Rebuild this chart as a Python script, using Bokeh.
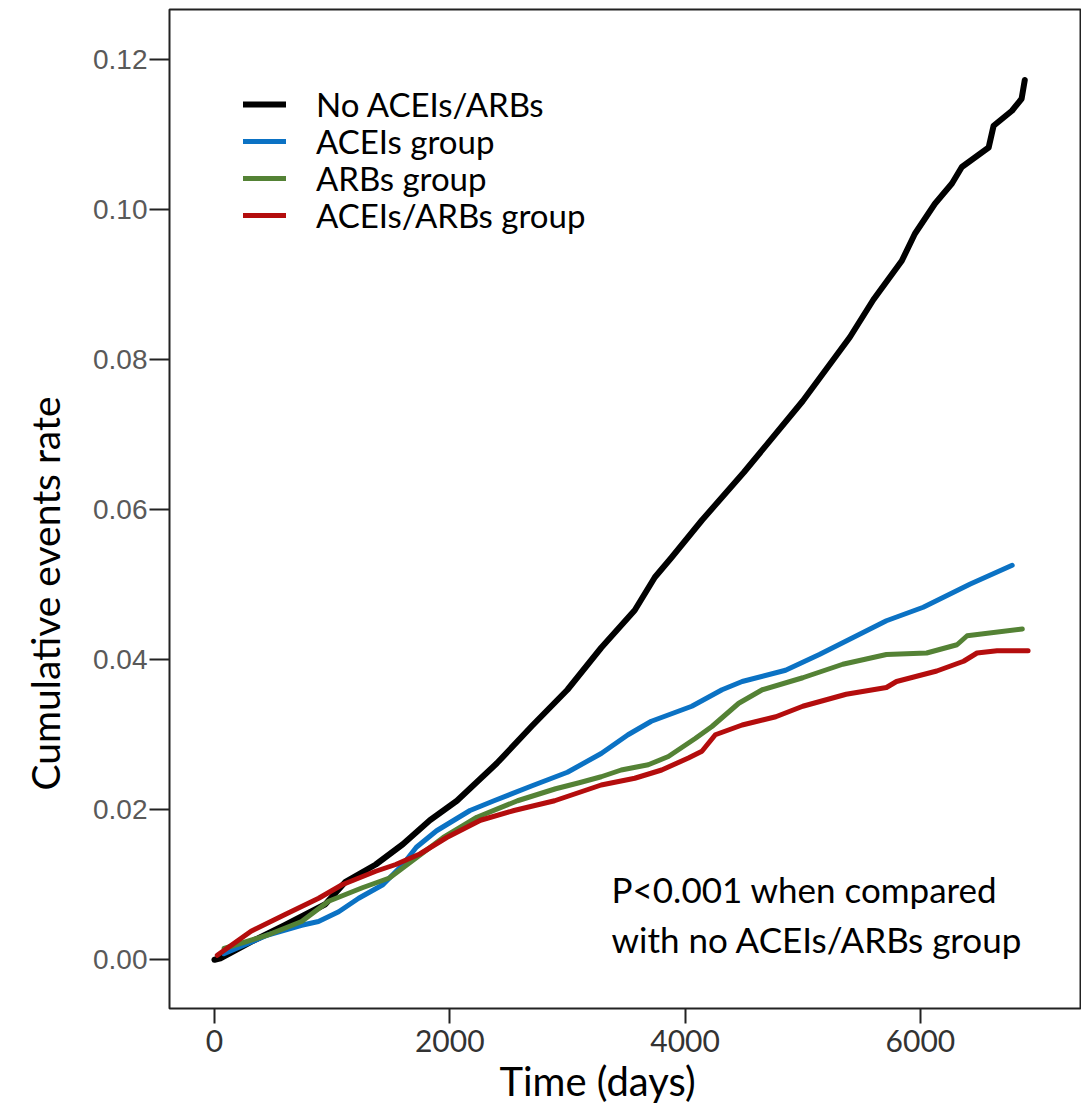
from bokeh.plotting import figure
from bokeh.models import (Range1d, FixedTicker, Legend, LegendItem, Label, Title)
from bokeh.embed import file_html
from bokeh.resources import INLINE

# ---- data ----
x_ticks = [0, 2000, 4000, 6000]
x_tick_labels = ["0", "2000", "4000", "6000"]
y_ticks = [0.0, 0.02, 0.04, 0.06, 0.08, 0.10, 0.12]
y_tick_labels = ["0.00", "0.02", "0.04", "0.06", "0.08", "0.10", "0.12"]

x_title = "Time (days)"
y_title = "Cumulative events rate"

series_names = ["No ACEIs/ARBs", "ACEIs group", "ARBs group", "ACEIs/ARBs group"]

black_days = [0, 51, 311, 596, 942, 1114, 1371, 1601, 1831, 2061, 2400, 2700, 3000,
              3287, 3572, 3743, 3883, 4143, 4500, 5000, 5400, 5600, 5842, 5953,
              6123, 6268, 6352, 6580, 6622, 6778, 6860, 6887]
black_vals = [0.0, 0.0002, 0.0024, 0.0046, 0.0074, 0.0104, 0.0127, 0.0154, 0.0186,
              0.0212, 0.0262, 0.0312, 0.0360, 0.0416, 0.0466, 0.0510, 0.0536, 0.0586,
              0.0650, 0.0745, 0.0830, 0.0880, 0.0932, 0.0968, 0.1008, 0.1035, 0.1057,
              0.1083, 0.1112, 0.1132, 0.1148, 0.1173]

blue_days = [80, 110, 453, 741, 884, 1056, 1226, 1431, 1601, 1716, 1888, 2172, 2376,
             2700, 3000, 3287, 3515, 3713, 4057, 4314, 4485, 4854, 5141, 5483, 5711,
             6024, 6424, 6780]
blue_vals = [0.0008, 0.0010, 0.0033, 0.0046, 0.0051, 0.0064, 0.0082, 0.0100, 0.0127,
             0.0150, 0.0172, 0.0199, 0.0212, 0.0232, 0.0250, 0.0275, 0.0300, 0.0318,
             0.0338, 0.0360, 0.0371, 0.0386, 0.0407, 0.0434, 0.0452, 0.0470, 0.0501,
             0.0526]

green_days = [82, 453, 741, 970, 1257, 1487, 1716, 1945, 2231, 2576, 2900, 3100, 3287,
              3457, 3687, 3858, 4086, 4228, 4456, 4656, 5000, 5340, 5711, 6053, 6311,
              6397, 6866]
green_vals = [0.0015, 0.0033, 0.0051, 0.0078, 0.0096, 0.0109, 0.0136, 0.0163, 0.0190,
              0.0212, 0.0228, 0.0236, 0.0244, 0.0253, 0.0260, 0.0271, 0.0295, 0.0311,
              0.0342, 0.0360, 0.0376, 0.0394, 0.0407, 0.0409, 0.0420, 0.0432, 0.0441]

red_days = [24, 311, 596, 886, 1085, 1371, 1541, 1745, 1974, 2261, 2546, 2891, 3287,
            3572, 3801, 4028, 4143, 4257, 4485, 4771, 5000, 5369, 5711, 5797, 6139,
            6367, 6481, 6651, 6915]
red_vals = [0.0006, 0.0038, 0.0060, 0.0082, 0.0100, 0.0118, 0.0127, 0.0141, 0.0163,
            0.0186, 0.0199, 0.0212, 0.0233, 0.0242, 0.0253, 0.0269, 0.0278, 0.0300,
            0.0313, 0.0324, 0.0338, 0.0354, 0.0363, 0.0371, 0.0385, 0.0398, 0.0409,
            0.0412, 0.0412]

annotation_lines = ["P<0.001 when compared", "with no ACEIs/ARBs group"]

# ---- figure ----
p = figure(width=1081, height=1105, output_backend="svg", toolbar_location=None,
           x_range=Range1d(-382, 7369), y_range=Range1d(-0.0065, 0.1267),
           min_border_left=169, min_border_right=0, min_border_top=9,
           min_border_bottom=97)
p.background_fill_color = "white"
p.border_fill_color = "white"
p.outline_line_color = "#222222"
p.outline_line_width = 2
p.grid.visible = False

xa = p.xaxis[0]
xa.ticker = FixedTicker(ticks=x_ticks)
xa.major_label_overrides = {t: l for t, l in zip(x_ticks, x_tick_labels)}
xa.axis_line_color = None
xa.major_tick_line_color = "#222222"
xa.major_tick_line_width = 2
xa.major_tick_out = 15
xa.major_tick_in = 0
xa.minor_tick_line_color = None
xa.major_label_text_font = "Lato"
xa.major_label_text_font_size = "30px"
xa.major_label_text_color = "#333333"
xa.major_label_standoff = 6

ya = p.yaxis[0]
ya.ticker = FixedTicker(ticks=y_ticks)
ya.major_label_overrides = {t: l for t, l in zip(y_ticks, y_tick_labels)}
ya.axis_line_color = None
ya.major_tick_line_color = "#222222"
ya.major_tick_line_width = 2
ya.major_tick_out = 20
ya.major_tick_in = 0
ya.minor_tick_line_color = None
ya.major_label_text_font = "Liberation Sans"
ya.major_label_text_font_size = "28px"
ya.major_label_text_color = "#595959"
ya.major_label_standoff = 2

# axis titles
p.add_layout(Title(text=y_title, align="left", vertical_align="top", offset=218,
                   text_font="Lato", text_font_size="39px", text_font_style="normal",
                   text_color="black", standoff=41), "left")
p.add_layout(Title(text=x_title, align="left", offset=330,
                   text_font="Lato", text_font_size="40px", text_font_style="normal",
                   text_color="black", standoff=0), "below")

colors = ["#000000", "#0B72C4", "#548235", "#B40D0D"]
widths = [6, 5, 5, 5]
data = [(black_days, black_vals), (blue_days, blue_vals),
        (green_days, green_vals), (red_days, red_vals)]

renderers = []
for (d, v), c, w in zip(data, colors, widths):
    r = p.line(d, v, line_color=c, line_width=w, line_join="round", line_cap="round")
    renderers.append(r)

# one legend per row so that the row pitch can match the original
for i, (n, r) in enumerate(zip(series_names, renderers)):
    lg = Legend(items=[LegendItem(label=n, renderers=[r])],
                location=(74, 884 - 37 * i), background_fill_alpha=0,
                border_line_color=None, padding=0, margin=0, spacing=0,
                glyph_width=43, glyph_height=30, label_height=30,
                label_standoff=30, label_text_font="Lato",
                label_text_font_size="33px", label_text_color="black")
    p.add_layout(lg)

for i, txt in enumerate(annotation_lines):
    p.add_layout(Label(x=442, y=120 - 50 * i, x_units="screen", y_units="screen",
                       text=txt, text_font="Lato", text_font_size="35px",
                       text_color="black", text_baseline="middle"))

open("out.html", "w").write(file_html(p, INLINE))
